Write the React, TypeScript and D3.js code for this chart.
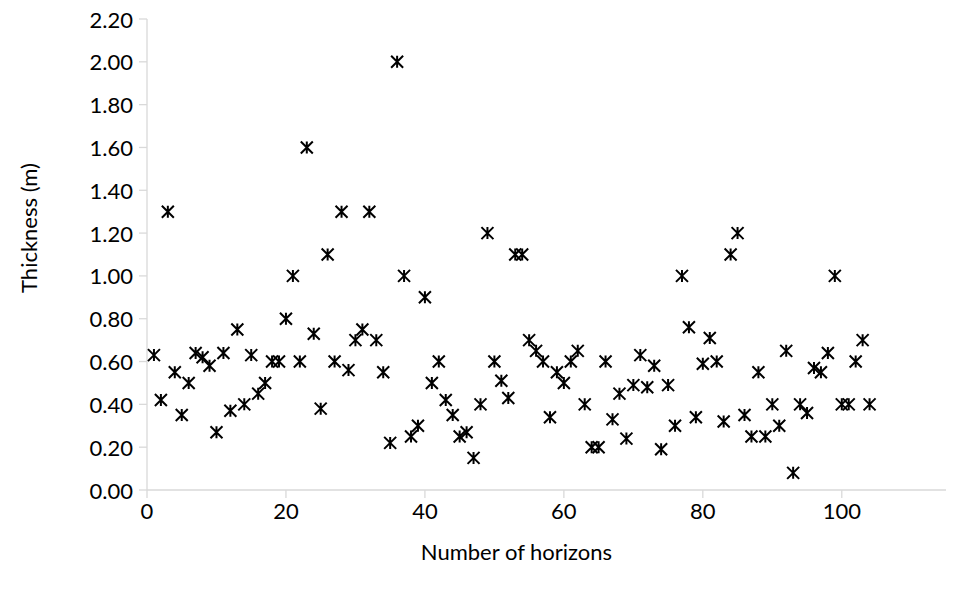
import React from "react";
import * as d3 from "d3";

// Horizon index and measured thickness (m) for each horizon
const horizons = [
  1, 2, 3, 4, 5, 6, 7, 8, 9, 10, 11, 12, 13, 14, 15, 16, 17, 18, 19, 20,
  21, 22, 23, 24, 25, 26, 27, 28, 29, 30, 31, 32, 33, 34, 35, 36, 37, 38, 39, 40,
  41, 42, 43, 44, 45, 46, 47, 48, 49, 50, 51, 52, 53, 54, 55, 56, 57, 58, 59, 60,
  61, 62, 63, 64, 65, 66, 67, 68, 69, 70, 71, 72, 73, 74, 75, 76, 77, 78, 79, 80,
  81, 82, 83, 84, 85, 86, 87, 88, 89, 90, 91, 92, 93, 94, 95, 96, 97, 98, 99, 100,
  101, 102, 103, 104,
];

const thickness = [
  0.63, 0.42, 1.3, 0.55, 0.35, 0.5, 0.64, 0.62, 0.58, 0.27,
  0.64, 0.37, 0.75, 0.4, 0.63, 0.45, 0.5, 0.6, 0.6, 0.8,
  1.0, 0.6, 1.6, 0.73, 0.38, 1.1, 0.6, 1.3, 0.56, 0.7,
  0.75, 1.3, 0.7, 0.55, 0.22, 2.0, 1.0, 0.25, 0.3, 0.9,
  0.5, 0.6, 0.42, 0.35, 0.25, 0.27, 0.15, 0.4, 1.2, 0.6,
  0.51, 0.43, 1.1, 1.1, 0.7, 0.65, 0.6, 0.34, 0.55, 0.5,
  0.6, 0.65, 0.4, 0.2, 0.2, 0.6, 0.33, 0.45, 0.24, 0.49,
  0.63, 0.48, 0.58, 0.19, 0.49, 0.3, 1.0, 0.76, 0.34, 0.59,
  0.71, 0.6, 0.32, 1.1, 1.2, 0.35, 0.25, 0.55, 0.25, 0.4,
  0.3, 0.65, 0.08, 0.4, 0.36, 0.57, 0.55, 0.64, 1.0, 0.4,
  0.4, 0.6, 0.7, 0.4,
];

const xTicks = [0, 20, 40, 60, 80, 100];
const yTicks = [0, 0.2, 0.4, 0.6, 0.8, 1.0, 1.2, 1.4, 1.6, 1.8, 2.0, 2.2];

const W = 965;
const H = 592;
const plot = { left: 147, top: 19, right: 946, bottom: 490 };
const axisColor = "#d9d9d9";
const textColor = "#000000";
const font = "Lato, 'Open Sans', sans-serif";
const fontSize = 22;

export default function App() {
  const x = d3.scaleLinear().domain([0, 115]).range([plot.left, plot.right]);
  const y = d3.scaleLinear().domain([0, 2.2]).range([plot.bottom, plot.top]);

  const h = 6; // half-size of the star marker
  const star = `M${-h},${-h}L${h},${h}M${-h},${h}L${h},${-h}M0,${-h}L0,${h}`;
  const tickLen = 8;

  const points = horizons.map((hz, i) => ({ hz, t: thickness[i] }));

  return (
    <svg
      width={W}
      height={H}
      style={{ position: "absolute", left: 0, top: 0, background: "#fff" }}
      fontFamily={font}
    >
      <rect width={W} height={H} fill="#fff" />

      {/* y axis */}
      <line x1={plot.left} x2={plot.left} y1={plot.top} y2={plot.bottom} stroke={axisColor} strokeWidth={1.3} />
      {yTicks.map((v) => (
        <g key={`y${v}`}>
          <line x1={plot.left - tickLen} x2={plot.left} y1={y(v)} y2={y(v)} stroke={axisColor} strokeWidth={1.3} />
          <text
            x={plot.left - 14}
            y={y(v)}
            textAnchor="end"
            dominantBaseline="central"
            fontSize={fontSize}
            fill={textColor}
          >
            {d3.format(".2f")(v)}
          </text>
        </g>
      ))}

      {/* x axis */}
      <line x1={plot.left} x2={plot.right} y1={plot.bottom} y2={plot.bottom} stroke={axisColor} strokeWidth={1.3} />
      {xTicks.map((v) => (
        <g key={`x${v}`}>
          <line x1={x(v)} x2={x(v)} y1={plot.bottom} y2={plot.bottom + tickLen} stroke={axisColor} strokeWidth={1.3} />
          <text x={x(v)} y={plot.bottom + 20} textAnchor="middle" dominantBaseline="central" fontSize={fontSize} fill={textColor}>
            {v}
          </text>
        </g>
      ))}

      {/* markers */}
      {points.map((p) => (
        <path
          key={p.hz}
          d={star}
          transform={`translate(${x(p.hz)},${y(p.t)})`}
          fill="none"
          stroke="#000"
          strokeWidth={2}
        />
      ))}

      {/* axis titles */}
      <text
        x={(plot.left + plot.right) / 2 - 30}
        y={551}
        textAnchor="middle"
        dominantBaseline="central"
        fontSize={fontSize}
        fill={textColor}
      >
        Number of horizons
      </text>
      <text
        transform={`translate(28,228) rotate(-90)`}
        textAnchor="middle"
        dominantBaseline="central"
        fontSize={fontSize}
        fill={textColor}
      >
        Thickness (m)
      </text>
    </svg>
  );
}
